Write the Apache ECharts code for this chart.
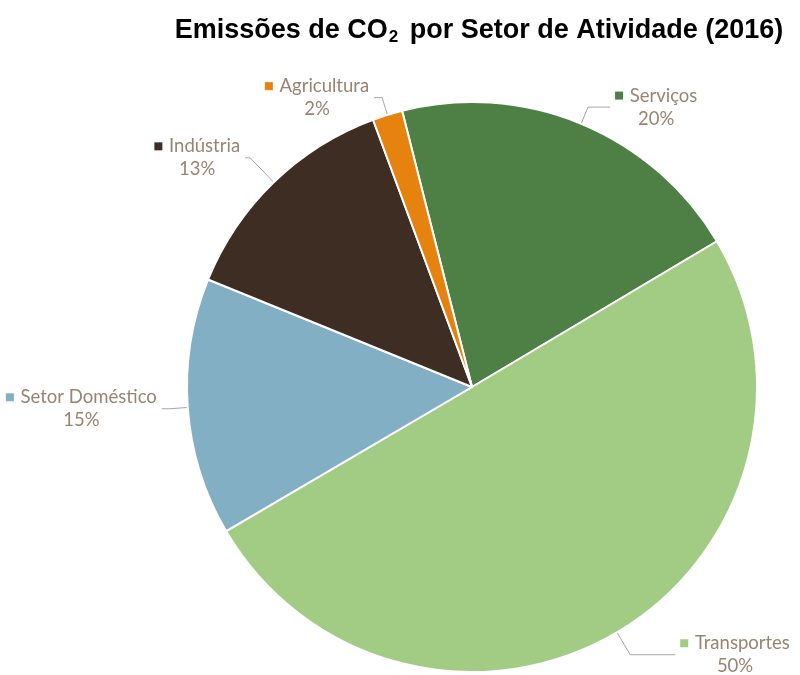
<!DOCTYPE html>
<html>
<head>
<meta charset="utf-8">
<script src="https://cdn.jsdelivr.net/npm/echarts@6/dist/echarts.min.js"></script>
<style>
  html, body { margin: 0; padding: 0; background: #fff; }
  #chart { width: 800px; height: 675px; }
</style>
</head>
<body>
<div id="chart"></div>
<script>
const sectors = ['Serviços', 'Transportes', 'Setor Doméstico', 'Indústria', 'Agricultura']
const shares = [20.4, 50.1, 14.6, 13.2, 1.7]
const colors = ['#4e8046', '#a2cb84', '#82afc4', '#3e2d23', '#e6820e']
// leader line lengths per slice [radial, horizontal]
const lineLens = [[18, 22], [26, 45], [18, 8], [34, 5], [18, 8]]

const chart = echarts.init(document.getElementById('chart'))

// small square marker in front of each label
const rich = {
  name: { fontFamily: 'Lato', fontSize: 18.5, color: '#9a8471', align: 'center', lineHeight: 23 },
  pct: { fontFamily: 'Lato', fontSize: 18.5, color: '#9a8471', align: 'center', lineHeight: 23 }
}
colors.forEach((c, i) => {
  rich['s' + i] = { width: 8, height: 8, backgroundColor: c, align: 'center' }
})

const option = {
  title: {
    text: '{a|Emissões de CO}{b|2}{a| por Setor de Atividade (2016)}',
    left: 474,
    top: 8,
    textAlign: 'center',
    textStyle: {
      rich: {
        a: { fontFamily: 'Liberation Sans', fontWeight: 'bold', fontSize: 27, color: '#000', lineHeight: 36 },
        b: { fontFamily: 'Liberation Sans', fontWeight: 'bold', fontSize: 17, color: '#000', padding: [12, 4, 0, 1], lineHeight: 36 }
      }
    }
  },
  series: [
    {
      type: 'pie',
      center: [472, 387],
      radius: [0, 285],
      startAngle: 104.2,
      clockwise: true,
      avoidLabelOverlap: false,
      itemStyle: {
        borderColor: '#fff',
        borderWidth: 2
      },
      label: {
        show: true,
        position: 'outside',
        formatter: (p) => `{s${p.dataIndex}|}  {name|${p.name}}\n{pct|${Math.round(p.percent)}%}`,
        rich
      },
      labelLine: {
        show: true,
        lineStyle: { color: '#a6a6a6', width: 1 }
      },
      data: sectors.map((name, i) => ({
        name,
        value: shares[i],
        itemStyle: { color: colors[i] },
        labelLine: { length: lineLens[i][0], length2: lineLens[i][1] }
      }))
    }
  ]
}
chart.setOption(option)
</script>
</body>
</html>
